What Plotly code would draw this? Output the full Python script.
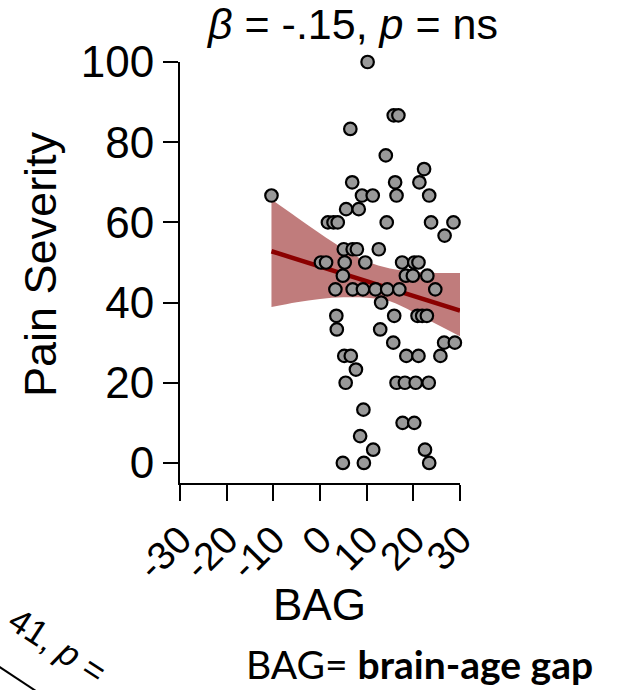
import plotly.graph_objects as go

# ---- data ----
bag = [10.2, 15.8, 16.8, 6.5, 14.1, 22.3, 6.9, 16.1, 21.3,
       -10.4, 9.0, 11.3, 16.4, 23.4, 5.6, 8.3,
       1.7, 2.9, 3.8, 14.3, 23.8, 28.6, 26.7,
       5.1, 7.0, 7.9, 12.6,
       0.2, 1.3, 5.3, 9.7, 17.6, 20.2, 21.1,
       4.9, 18.4, 19.9, 23.0,
       3.3, 7.0, 9.2, 11.9, 14.4, 17.0, 24.7,
       13.1,
       3.5, 15.9, 20.9, 21.9, 22.9,
       3.6, 12.9,
       15.7, 26.6, 28.9,
       5.2, 6.6, 18.5, 21.1, 25.8,
       7.7,
       5.5, 16.4, 18.2, 20.5, 23.3,
       9.3, 17.7, 20.2, 8.6, 11.4, 22.5, 4.9, 9.4, 23.4]
pain = [100, 86.7, 86.7, 83.3, 76.7, 73.3, 70, 70, 70,
        66.7, 66.7, 66.7, 66.7, 66.7, 63.3, 63.3,
        60, 60, 60, 60, 60, 60, 56.7,
        53.3, 53.3, 53.3, 53.3,
        50, 50, 50, 50, 50, 50, 50,
        46.7, 46.7, 46.7, 46.7,
        43.3, 43.3, 43.3, 43.3, 43.3, 43.3, 43.3,
        40,
        36.7, 36.7, 36.7, 36.7, 36.7,
        33.3, 33.3,
        30, 30, 30,
        26.7, 26.7, 26.7, 26.7, 26.7,
        23.3,
        20, 20, 20, 20, 20,
        13.3, 10, 10, 6.7, 3.3, 3.3, 0, 0, 0]

fit_x = [-10.4, 30]
fit_y = [52.8, 38.0]

band_x = [-10.4, -5, 0, 5, 10, 15, 20, 25, 30]
band_upper = [65.7, 61.3, 57.2, 53.4, 50.3, 48.5, 47.7, 47.4, 47.4]
band_lower = [38.9, 40.1, 40.9, 41.3, 41.2, 40.3, 37.6, 34.6, 31.6]

x_ticks = [-30, -20, -10, 0, 10, 20, 30]
y_ticks = [0, 20, 40, 60, 80, 100]

FONT = "Liberation Sans, Arial, sans-serif"

fig = go.Figure()
fig.add_trace(go.Scatter(x=band_x, y=band_lower, mode="lines",
                         line=dict(width=0, shape="spline", color="rgba(0,0,0,0)"),
                         hoverinfo="skip", showlegend=False))
fig.add_trace(go.Scatter(x=band_x, y=band_upper, mode="lines", fill="tonexty",
                         fillcolor="rgb(192,124,124)",
                         line=dict(width=0, shape="spline", color="rgba(0,0,0,0)"),
                         hoverinfo="skip", showlegend=False))
fig.add_trace(go.Scatter(x=fit_x, y=fit_y, mode="lines",
                         line=dict(color="#8B0000", width=4.5), showlegend=False))
fig.add_trace(go.Scatter(x=bag, y=pain, mode="markers",
                         marker=dict(size=12.5, color="#999999",
                                     line=dict(color="black", width=2.2)),
                         cliponaxis=False, showlegend=False))

fig.update_layout(
    width=627, height=690,
    margin=dict(l=180, r=167, t=62, b=207),
    paper_bgcolor="white", plot_bgcolor="white",
    font=dict(family=FONT, color="black"),
    showlegend=False,
)
fig.update_xaxes(range=[-30, 30], tickvals=x_ticks, ticktext=[str(v) for v in x_ticks],
                 tickangle=-45, ticks="outside", ticklen=16, tickwidth=2,
                 showline=True, linewidth=2, linecolor="black", tickcolor="black",
                 showgrid=False, zeroline=False, tickfont=dict(size=39, family=FONT))
fig.update_yaxes(range=[-5, 100], tickvals=y_ticks, ticks="outside", ticklen=15, tickwidth=2,
                 showline=True, linewidth=2, linecolor="black", tickcolor="black",
                 showgrid=False, zeroline=False, tickfont=dict(size=44, family=FONT))

def px2paper_x(px):
    return (px - 180) / 280

def px2paper_y(py):
    return (483 - py) / 421

anns = [
    dict(text="<i>β</i> = -.15, <i>p</i> = ns", x=px2paper_x(352), y=px2paper_y(24),
         font=dict(size=43, family=FONT)),
    dict(text="BAG", x=px2paper_x(319), y=px2paper_y(604), font=dict(size=44, family=FONT)),
    dict(text="Pain Severity", x=px2paper_x(40), y=px2paper_y(264), textangle=-90,
         font=dict(size=45, family=FONT)),
    dict(text="BAG= <b>brain-age gap</b>", x=px2paper_x(419), y=px2paper_y(664),
         font=dict(size=39, family="Lato, Noto Sans, sans-serif")),
    dict(text="41, <i>p</i> =", x=px2paper_x(58), y=px2paper_y(645), textangle=33,
         font=dict(size=35, family=FONT)),
]
for a in anns:
    fig.add_annotation(xref="paper", yref="paper", showarrow=False,
                       xanchor="center", yanchor="middle", **a)

fig.add_shape(type="line", xref="paper", yref="paper",
              x0=px2paper_x(-5), y0=px2paper_y(664), x1=px2paper_x(45), y1=px2paper_y(697),
              line=dict(color="black", width=2))

fig.write_html("out.html")
